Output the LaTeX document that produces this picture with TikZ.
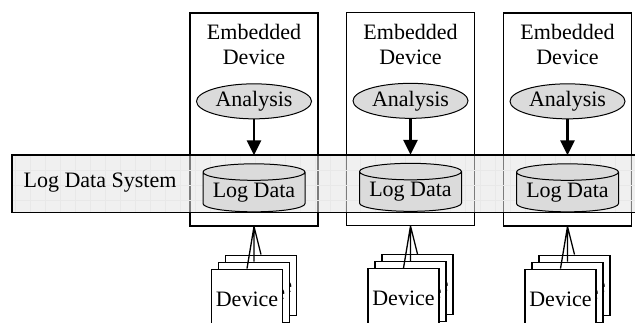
\documentclass[tikz,border=0pt]{standalone}
\usepackage{fontspec}
\setmainfont{Liberation Serif}
\usetikzlibrary{arrows.meta, positioning, shapes.geometric}

\begin{document}
\begin{tikzpicture}[
  x=1pt, y=-1pt,
  font=\fontsize{22}{25}\selectfont,
  embbox/.style={draw, line width=1.1pt, minimum width=128pt, minimum height=213pt, inner sep=0pt},
  txt/.style={align=center, inner sep=0pt},
  anabox/.style={draw, ellipse, fill=black!14, line width=1pt,
    minimum width=115pt, minimum height=35pt, inner sep=0pt},
  logdb/.style={draw, cylinder, shape border rotate=90, aspect=0.2, fill=black!14,
    line width=1pt, minimum width=102pt, minimum height=48pt, inner sep=0pt},
  band/.style={fill=black!11, fill opacity=0.55,
    minimum width=640pt, minimum height=57pt, inner sep=0pt},
  bandedge/.style={line width=1.2pt},
  gridline/.style={black!9, line width=0.5pt, step=15pt},
  doc/.style={draw, fill=white, line width=1.3pt, minimum width=71pt, minimum height=60pt, inner sep=0pt},
  flow/.style={-{Triangle[length=15pt, width=14pt]}, line width=2.5pt, shorten >=8pt},
  link/.style={line width=1.3pt}
]
\useasboundingbox (0,0) rectangle (635,322);
\clip (0,0) rectangle (635,322);

% embedded devices
\node[embbox] (emb1) at (254,119.5) {};
\node[embbox] (emb2) at (410.5,119) {};
\node[embbox] (emb3) at (567.5,119.5) {};
\node[txt, below=12pt of emb1.north] (embl1) {Embedded\\Device};
\node[txt, below=12pt of emb2.north] (embl2) {Embedded\\Device};
\node[txt, below=12pt of emb3.north] (embl3) {Embedded\\Device};

% shared log band (grid first, edge on top)
\node[band, anchor=north west] (lds) at (12,155) {};
\begin{scope}
  \clip (lds.north west) rectangle (lds.south east);
  \draw[gridline, shift={(0,5)}] (0,135) grid (645,225);
\end{scope}
\draw[bandedge] (lds.north west) rectangle (lds.south east);
\node[txt] (ldsl) at (100,183) {Log Data System};

% analysis -> log data
\node[anabox, below=18pt of embl1] (ana1) {Analysis};
\node[anabox, below=18pt of embl2] (ana2) {Analysis};
\node[anabox, below=18pt of embl3] (ana3) {Analysis};
\node[logdb, below=44pt of ana1] (log1) {Log Data};
\node[logdb, below=44pt of ana2] (log2) {Log Data};
\node[logdb, below=44pt of ana3] (log3) {Log Data};
\draw[flow] (ana1) -- (log1);
\draw[flow] (ana2) -- (log2);
\draw[flow] (ana3) -- (log3);

% device stacks, back to front
\node[doc, below=28pt of emb1.south, xshift=7pt] (dev1c) {Device};
\node[doc, below=35pt of emb1.south] (dev1b) {Device};
\node[doc, below=42pt of emb1.south, xshift=-7pt] (dev1a) {Device};
\node[doc, below=28pt of emb2.south, xshift=7pt] (dev2c) {Device};
\node[doc, below=35pt of emb2.south] (dev2b) {Device};
\node[doc, below=42pt of emb2.south, xshift=-7pt] (dev2a) {Device};
\node[doc, below=28pt of emb3.south, xshift=7pt] (dev3c) {Device};
\node[doc, below=35pt of emb3.south] (dev3b) {Device};
\node[doc, below=42pt of emb3.south, xshift=-7pt] (dev3a) {Device};

\draw[link] (emb1.south) -- (dev1a.north) (emb1.south) -- (dev1b.north) (emb1.south) -- (dev1c.north);
\draw[link] (emb2.south) -- (dev2a.north) (emb2.south) -- (dev2b.north) (emb2.south) -- (dev2c.north);
\draw[link] (emb3.south) -- (dev3a.north) (emb3.south) -- (dev3b.north) (emb3.south) -- (dev3c.north);
\end{tikzpicture}
\end{document}
